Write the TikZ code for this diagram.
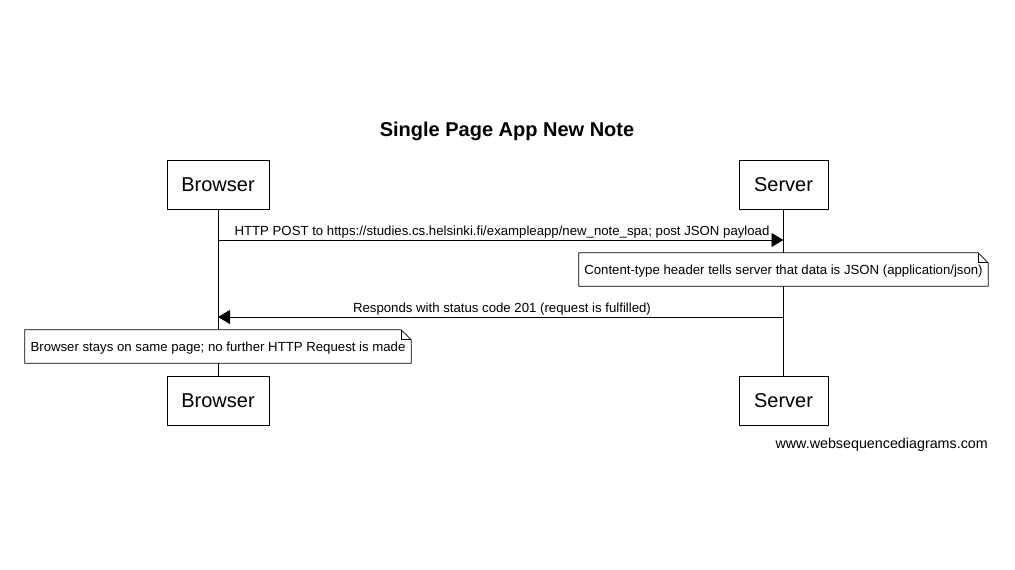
\documentclass[tikz,border=0pt]{standalone}
\usepackage{fontspec}
\setmainfont{Liberation Sans}
\usetikzlibrary{arrows.meta}
\tikzset{
  actor/.style={draw, line width=0.8pt, fill=white, minimum height=49pt, inner sep=0pt, font=\fontsize{20}{24}\selectfont},
  msg/.style={line width=0.8pt, -{Triangle[length=12pt,width=14pt]}},
  lbl/.style={font=\fontsize{13.2}{15}\selectfont, inner sep=0pt},
  note/.style={font=\fontsize{13.2}{15}\selectfont, inner sep=0pt, minimum height=33pt, fill=white},
  life/.style={line width=0.8pt},
}
\newcommand{\foldnote}[1]{%
  \fill[white] (#1.south west) -- (#1.south east) -- ([yshift=-10pt]#1.north east) -- ([xshift=-10pt]#1.north east) -- (#1.north west) -- cycle;
  \draw[line width=0.8pt] (#1.south west) -- (#1.south east) -- ([yshift=-10pt]#1.north east) -- ([xshift=-10pt]#1.north east) -- (#1.north west) -- cycle;
  \draw[line width=0.8pt] ([xshift=-10pt]#1.north east) -- ([xshift=-10pt,yshift=-10pt]#1.north east) -- ([yshift=-10pt]#1.north east);
}
\begin{document}
\begin{tikzpicture}[x=1pt,y=-1pt]
\useasboundingbox (0,0) rectangle (1015,570);
\node[font=\bfseries\fontsize{20}{24}\selectfont] (title) at (507,131) {Single Page App New Note};
\node[actor, minimum width=102pt] (b1) at (218,185) {Browser};
\node[actor, minimum width=89pt] (s1) at (783.5,185) {Server};
\node[actor, minimum width=102pt] (b2) at (218,401) {Browser};
\node[actor, minimum width=89pt] (s2) at (783.5,401) {Server};
\draw[life] (b1.south) -- (b2.north);
\draw[life] (s1.south) -- (s2.north);
\coordinate (bA) at (218,240);
\coordinate (sA) at (783.5,240);
\coordinate (bB) at (218,317);
\coordinate (sB) at (783.5,317);
\draw[msg] (bA) -- (sA);
\node[lbl] (l1) at (502,232.5) {HTTP POST to https://studies.cs.helsinki.fi/exampleapp/new\_note\_spa; post JSON payload};
\node[note, minimum width=409pt] (n1) at (783.5,269.5) {};
\foldnote{n1}
\node[lbl] at ([yshift=-1.5pt]n1.center) {Content-type header tells server that data is JSON (application/json)};
\draw[msg] (sB) -- (bB);
\node[lbl] (l2) at (502,309.5) {Responds with status code 201 (request is fulfilled)};
\node[note, minimum width=386pt] (n2) at (218,346.5) {};
\foldnote{n2}
\node[lbl] at ([yshift=-1.5pt]n2.center) {Browser stays on same page; no further HTTP Request is made};
\node[font=\fontsize{14.3}{16}\selectfont, inner sep=0pt, anchor=east] (foot) at (988,445) {www.websequencediagrams.com};
\end{tikzpicture}
\end{document}
